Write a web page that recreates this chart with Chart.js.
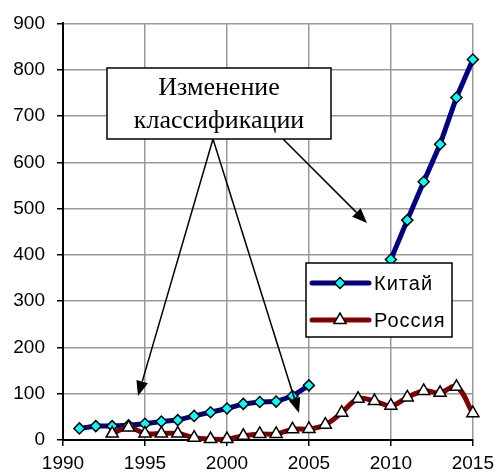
<!DOCTYPE html>
<html>
<head>
<meta charset="utf-8">
<script src="https://cdn.jsdelivr.net/npm/chart.js@4/dist/chart.umd.min.js"></script>
<style>
	body { margin: 0; background: #fff; }
	#wrap { width: 500px; height: 473px; }
</style>
</head>
<body>
<div id="wrap"><canvas id="chart"></canvas></div>
<script>
const years = [1991, 1992, 1993, 1994, 1995, 1996, 1997, 1998, 1999, 2000, 2001, 2002, 2003,
	2004, 2005, 2006, 2007, 2008, 2009, 2010, 2011, 2012, 2013, 2014, 2015];
const china = [25, 30, 30, 32, 35, 40, 43, 52, 60, 68, 78, 82, 83,
	95, 118, null, null, null, null, 390, 475, 558, 639, 740, 822];
const russia = [null, null, 14, 27, 14, 14, 14, 5, 2, 2, 9, 13, 13,
	23, 24, 33, 59, 89, 84, 74, 92, 106, 102, 115, 58];
const seriesNames = ["Китай", "Россия"];
const noteLines = ["Изменение", "классификации"];

function points(values) {
	return years.map((y, i) => ({ x: y, y: values[i] }));
}

function diamond(ctx, x, y, r) {
	ctx.beginPath();
	ctx.moveTo(x, y - r);
	ctx.lineTo(x + r, y);
	ctx.lineTo(x, y + r);
	ctx.lineTo(x - r, y);
	ctx.closePath();
	ctx.fillStyle = "#00ffff";
	ctx.fill();
	ctx.lineWidth = 1.5;
	ctx.strokeStyle = "#000";
	ctx.stroke();
}

function triangle(ctx, x, y, r) {
	ctx.beginPath();
	ctx.moveTo(x, y - r);
	ctx.lineTo(x + r * 0.866, y + r / 2);
	ctx.lineTo(x - r * 0.866, y + r / 2);
	ctx.closePath();
	ctx.fillStyle = "#fff";
	ctx.fill();
	ctx.lineWidth = 1.5;
	ctx.strokeStyle = "#000";
	ctx.stroke();
}

function arrow(ctx, x1, y1, x2, y2) {
	const a = Math.atan2(y2 - y1, x2 - x1);
	const len = 15, half = 6;
	const bx = x2 - Math.cos(a) * len, by = y2 - Math.sin(a) * len;
	ctx.beginPath();
	ctx.moveTo(x1, y1);
	ctx.lineTo(bx, by);
	ctx.lineWidth = 1.5;
	ctx.strokeStyle = "#000";
	ctx.stroke();
	ctx.beginPath();
	ctx.moveTo(x2, y2);
	ctx.lineTo(bx - Math.sin(a) * half, by + Math.cos(a) * half);
	ctx.lineTo(bx + Math.sin(a) * half, by - Math.cos(a) * half);
	ctx.closePath();
	ctx.fillStyle = "#000";
	ctx.fill();
}

const extras = {
	id: "extras",
	afterDatasetsDraw(chart) {
		const ctx = chart.ctx;
		ctx.save();
		// note box and arrows
		arrow(ctx, 213, 139, 138, 396);
		arrow(ctx, 213, 139, 299, 413);
		arrow(ctx, 283, 139, 367, 223);
		ctx.fillStyle = "#fff";
		ctx.fillRect(107, 68, 224, 71);
		ctx.lineWidth = 1.5;
		ctx.strokeStyle = "#000";
		ctx.strokeRect(107, 68, 224, 71);
		ctx.fillStyle = "#000";
		ctx.font = "26px 'Liberation Serif', 'Times New Roman', serif";
		ctx.textAlign = "center";
		ctx.textBaseline = "middle";
		ctx.fillText(noteLines[0], 219, 88);
		ctx.fillText(noteLines[1], 219, 121);

		// legend
		ctx.fillStyle = "#fff";
		ctx.fillRect(306, 263, 146, 74);
		ctx.strokeRect(306, 263, 146, 74);
		const rows = [
			{ y: 283, color: "#000080", mark: diamond, r: 5.5 },
			{ y: 320, color: "#800000", mark: triangle, r: 7 }
		];
		rows.forEach((row, i) => {
			ctx.beginPath();
			ctx.moveTo(312, row.y);
			ctx.lineTo(369, row.y);
			ctx.lineWidth = 5;
			ctx.lineCap = "round";
			ctx.strokeStyle = row.color;
			ctx.stroke();
			ctx.lineCap = "butt";
			row.mark(ctx, 340, row.y, row.r);
			ctx.fillStyle = "#000";
			ctx.font = "20px 'Liberation Sans', Arial, sans-serif";
			ctx.letterSpacing = "1px";
			ctx.textAlign = "left";
			ctx.fillText(seriesNames[i], 374, row.y + 1);
			ctx.letterSpacing = "0px";
		});
		ctx.restore();
	}
};

const tickFont = { family: "'Liberation Sans', Arial, sans-serif", size: 19 };

new Chart(document.getElementById("chart"), {
	type: "line",
	data: {
		datasets: [{
			label: seriesNames[0],
			data: points(china),
			borderColor: "#000080",
			borderWidth: 5,
			pointStyle: "rectRot",
			pointRadius: 5.5,
			pointBackgroundColor: "#00ffff",
			pointBorderColor: "#000",
			pointBorderWidth: 1.5,
			spanGaps: false,
			tension: 0,
			clip: false,
			order: 2
		}, {
			label: seriesNames[1],
			data: points(russia),
			borderColor: "#800000",
			borderWidth: 5,
			pointStyle: "triangle",
			pointRadius: 7,
			pointBackgroundColor: "#fff",
			pointBorderColor: "#000",
			pointBorderWidth: 1.5,
			tension: 0.4,
			clip: false,
			order: 1
		}]
	},
	options: {
		responsive: true,
		maintainAspectRatio: false,
		animation: false,
		layout: { padding: { left: 0, right: 25, top: 23, bottom: 0 } },
		plugins: { legend: { display: false }, tooltip: { enabled: false } },
		scales: {
			x: {
				type: "linear",
				min: 1990,
				max: 2015,
				ticks: { stepSize: 5, color: "#000", font: tickFont, padding: 6, maxRotation: 0, callback: v => String(v) },
				grid: { color: "#999", lineWidth: 1.5, tickColor: "#000", tickLength: 6 },
				border: { color: "#000", width: 2 },
				afterFit: s => { s.height = 33; }
			},
			y: {
				min: 0,
				max: 900,
				ticks: { stepSize: 100, color: "#000", font: tickFont, padding: 12 },
				grid: { color: "#999", lineWidth: 1.5, tickColor: "#000", tickLength: 6 },
				border: { color: "#000", width: 2 },
				afterFit: s => { s.width = 63; }
			}
		}
	},
	plugins: [extras]
});
</script>
</body>
</html>
